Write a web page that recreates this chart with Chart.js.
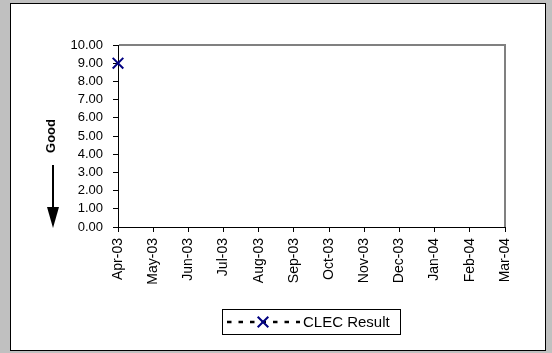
<!DOCTYPE html>
<html>
<head>
<meta charset="utf-8">
<script src="https://cdn.jsdelivr.net/npm/chart.js@4.4.0/dist/chart.umd.min.js"></script>
<style>
	body { margin: 0; background: #c0c0c0; }
	#chart { display: block; }
</style>
</head>
<body>
<canvas id="chart" width="552" height="353"></canvas>
<script>
// chart values
var months = ['Apr-03', 'May-03', 'Jun-03', 'Jul-03', 'Aug-03', 'Sep-03', 'Oct-03', 'Nov-03', 'Dec-03', 'Jan-04', 'Feb-04', 'Mar-04'];
var clecResult = [9, null, null, null, null, null, null, null, null, null, null, null];
var seriesLabel = 'CLEC Result';
var yTitle = 'Good';
var yMin = 0, yMax = 10, yStep = 1;

var fontFamily = "Arial, 'Liberation Sans', sans-serif";
Chart.defaults.font.family = fontFamily;
Chart.defaults.color = '#000';

// white panel + frame behind the chart
var panelPlugin = {
	id: 'panel',
	beforeDraw: function(chart) {
		var ctx = chart.ctx;
		ctx.save();
		ctx.fillStyle = '#fff';
		ctx.fillRect(10, 3, 536, 348);
		ctx.strokeStyle = '#000';
		ctx.lineWidth = 1;
		ctx.strokeRect(10.5, 3.5, 535, 347);
		ctx.restore();
	},
	beforeDatasetsDraw: function(chart) {
		// gray top and right edges of plot area
		var a = chart.chartArea, ctx = chart.ctx;
		ctx.save();
		ctx.strokeStyle = '#808080';
		ctx.lineWidth = 2;
		ctx.beginPath();
		ctx.moveTo(a.left + 1, a.top);
		ctx.lineTo(a.right, a.top);
		ctx.lineTo(a.right, a.bottom);
		ctx.stroke();
		ctx.restore();
	},
	afterDraw: function(chart) {
		var ctx = chart.ctx;
		ctx.save();
		// arrow under "Good"
		ctx.strokeStyle = '#000';
		ctx.fillStyle = '#000';
		ctx.lineWidth = 2;
		ctx.beginPath();
		ctx.moveTo(53, 165);
		ctx.lineTo(53, 209);
		ctx.stroke();
		ctx.beginPath();
		ctx.moveTo(47, 207);
		ctx.lineTo(59, 207);
		ctx.lineTo(53, 228);
		ctx.closePath();
		ctx.fill();

		// legend
		var ds = chart.data.datasets[0];
		ctx.lineWidth = 1;
		ctx.strokeStyle = '#000';
		ctx.strokeRect(222.5, 309.5, 178, 25);
		var ly = 322;
		ctx.lineWidth = 2.5;
		ctx.setLineDash([4.5, 7]);
		ctx.beginPath();
		ctx.moveTo(227, ly);
		ctx.lineTo(300, ly);
		ctx.stroke();
		ctx.setLineDash([]);
		ctx.strokeStyle = ds.pointBorderColor;
		ctx.lineWidth = ds.pointBorderWidth;
		Chart.helpers.drawPoint(ctx, { pointStyle: ds.pointStyle, radius: ds.pointRadius, borderWidth: ds.pointBorderWidth, rotation: 0 }, 263, ly);
		ctx.fillStyle = '#000';
		ctx.font = '15px ' + fontFamily;
		ctx.textBaseline = 'middle';
		ctx.fillText(ds.label, 303, ly + 1);
		ctx.restore();
	}
};

var ctx = document.getElementById('chart');
var chart = new Chart(ctx, {
	type: 'line',
	data: {
		labels: months,
		datasets: [{
			label: seriesLabel,
			data: clecResult,
			borderColor: '#000',
			borderWidth: 2,
			borderDash: [4.5, 7],
			pointStyle: 'crossRot',
			pointRadius: 7.5,
			pointBorderColor: '#000080',
			pointBackgroundColor: '#000080',
			pointBorderWidth: 2,
			fill: false,
			clip: false
		}]
	},
	options: {
		responsive: false,
		animation: false,
		layout: { padding: { left: 0, top: 45, right: 47, bottom: 46 } },
		plugins: {
			legend: { display: false },
			tooltip: { enabled: false }
		},
		scales: {
			x: {
				offset: false,
				grid: { drawOnChartArea: false, tickLength: 5, tickColor: '#000' },
				border: { color: '#000', width: 1 },
				ticks: { minRotation: 90, maxRotation: 90, padding: 6, font: { size: 14 }, color: '#000', autoSkip: false },
				afterFit: function(scale) { scale.height = 80; }
			},
			y: {
				min: yMin,
				max: yMax,
				grid: { drawOnChartArea: false, tickLength: 5, tickColor: '#000' },
				border: { color: '#000', width: 1 },
				ticks: {
					stepSize: yStep,
					autoSkip: false,
					padding: 10,
					font: { size: 13 },
					color: '#000',
					callback: function(v) { return v.toFixed(2); }
				},
				title: {
					display: true,
					text: yTitle,
					font: { size: 13, weight: 'bold' },
					color: '#000',
					padding: { top: 44, bottom: 0 }
				},
				afterFit: function(scale) { scale.width = 118; }
			}
		}
	},
	plugins: [panelPlugin]
});
</script>
</body>
</html>
